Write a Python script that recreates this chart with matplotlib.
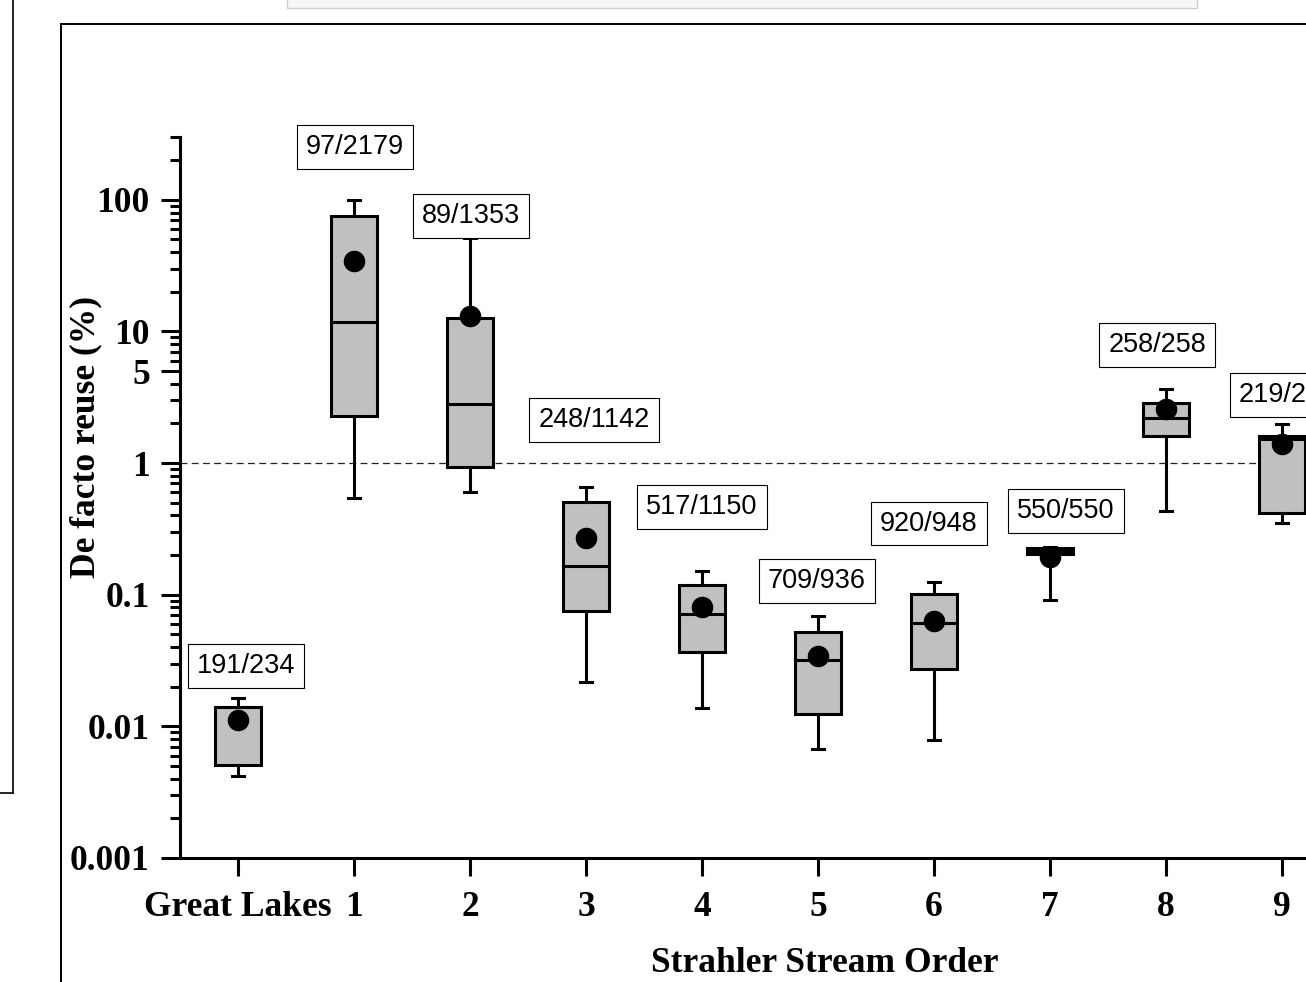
import matplotlib
matplotlib.use("Agg")
import matplotlib.pyplot as plt
import matplotlib.ticker as mt
from matplotlib.lines import Line2D
from matplotlib.patches import Rectangle

plt.rcParams["font.family"] = ["Liberation Serif", "DejaVu Serif"]
plt.rcParams["font.weight"] = "bold"

# values (De facto reuse, %)
cats = ["Great Lakes", "1", "2", "3", "4", "5", "6", "7", "8", "9"]
whis_hi = [0.0165, 99, 51, 0.66, 0.152, 0.069, 0.126, 0.23, 3.68, 1.98]
q3 = [0.0141, 75.5, 12.6, 0.507, 0.119, 0.0525, 0.101, 0.228, 2.85, 1.61]
med = [0.0141, 11.9, 2.82, 0.164, 0.0714, 0.032, 0.0614, 0.216, 2.19, 1.53]
q1 = [0.0051, 2.28, 0.94, 0.0757, 0.037, 0.0124, 0.0274, 0.204, 1.60, 0.42]
whis_lo = [0.0042, 0.54, 0.60, 0.0216, 0.0139, 0.0067, 0.0079, 0.091, 0.43, 0.35]
means = [0.0112, 34.4, 13.0, 0.268, 0.080, 0.0343, 0.0633, 0.195, 2.57, 1.40]
counts = ["191/234", "97/2179", "89/1353", "248/1142", "517/1150", "709/936",
          "920/948", "550/550", "258/258", "219/219"]
# label offsets above whisker top (pixels)
lab_off = [(8, 32), (1, 53), (1, 22), (8, 67), (0, 64), (-1, 35), (-5, 58),
           (16, 36), (-9, 44), (6, 29)]

W, H = 1306, 982
fig = plt.figure(figsize=(W / 100, H / 100), dpi=100)
ax = fig.add_axes([180 / W, 1 - 858 / H, 1160 / W, 721 / H])
ax.set_yscale("log")

stats = [dict(label=c, whislo=lo, q1=a, med=m, q3=b, whishi=hi, mean=mu)
         for c, lo, a, m, b, hi, mu in zip(cats, whis_lo, q1, med, q3, whis_hi, means)]
lw = 2.2
ax.bxp(stats, positions=range(len(cats)), widths=0.39, capwidths=0.095,
       patch_artist=True, showmeans=True, showfliers=False,
       boxprops=dict(facecolor="#c0c0c0", edgecolor="k", linewidth=lw),
       medianprops=dict(color="k", linewidth=lw),
       whiskerprops=dict(color="k", linewidth=lw),
       capprops=dict(color="k", linewidth=lw),
       meanprops=dict(marker="o", markerfacecolor="k", markeredgecolor="k", markersize=14.5))

ax.axhline(1, color="#222222", lw=0.9, ls=(0, (5.5, 3.5)), zorder=0)

for i, (t, (dx, dy)) in enumerate(zip(counts, lab_off)):
    ax.annotate(t, xy=(i, whis_hi[i]), xytext=(dx, dy), textcoords="offset pixels",
                ha="center", va="center", fontsize=19.5, family=["Liberation Sans", "DejaVu Sans"],
                fontweight="normal", annotation_clip=False,
                bbox=dict(boxstyle="square,pad=0.33", fc="white", ec="k", lw=0.8))

ax.set_xlim(-0.5, 9.5)
ax.set_ylim(1e-3, 300)
ax.yaxis.set_major_locator(mt.FixedLocator([1e-3, 1e-2, 0.1, 1, 5, 10, 100]))
ax.yaxis.set_major_formatter(mt.FixedFormatter(["0.001", "0.01", "0.1", "1", "5", "10", "100"]))
ax.yaxis.set_minor_locator(mt.LogLocator(base=10, subs=range(2, 10), numticks=20))
ax.yaxis.set_minor_formatter(mt.NullFormatter())
ax.set_xticks(range(len(cats)))
ax.set_xticklabels(cats)

ax.tick_params(axis="y", which="major", length=13.7, width=lw, pad=8, labelsize=25.5)
ax.tick_params(axis="y", which="minor", length=7, width=lw)
ax.tick_params(axis="x", which="major", length=13, width=lw, pad=11, labelsize=25.5)
for s in ["top", "right"]:
    ax.spines[s].set_visible(False)
for s in ["left", "bottom"]:
    ax.spines[s].set_linewidth(lw)

ax.set_ylabel("De facto reuse (%)", fontsize=25.5, fontweight="bold", va="center", ha="center")
ax.yaxis.set_label_coords(-94 / 1160, (858 - 437) / 721)
ax.set_xlabel("Strahler Stream Order", fontsize=25.5, fontweight="bold", va="baseline")
ax.xaxis.set_label_coords((825 - 180) / 1160, -(972 - 858) / 721)

# surrounding frame pieces from the screenshot
def px(x, y):
    return x / W, 1 - y / H

for (x0, y0), (x1, y1), w in [((60.5, 24), (60.5, 990), 1.4), ((60.5, 24), (1320, 24), 1.4),
                              ((13, -5), (13, 793), 1.2), ((-5, 793), (13, 793), 1.2)]:
    a, b = px(x0, y0), px(x1, y1)
    fig.add_artist(Line2D([a[0], b[0]], [a[1], b[1]], color="k", lw=w))
fig.add_artist(Rectangle(px(287, 8), 910 / W, 10 / H, transform=fig.transFigure,
                         fc="#f6f6f6", ec="#cfcfcf", lw=1))

fig.savefig("out.png", dpi=100)
